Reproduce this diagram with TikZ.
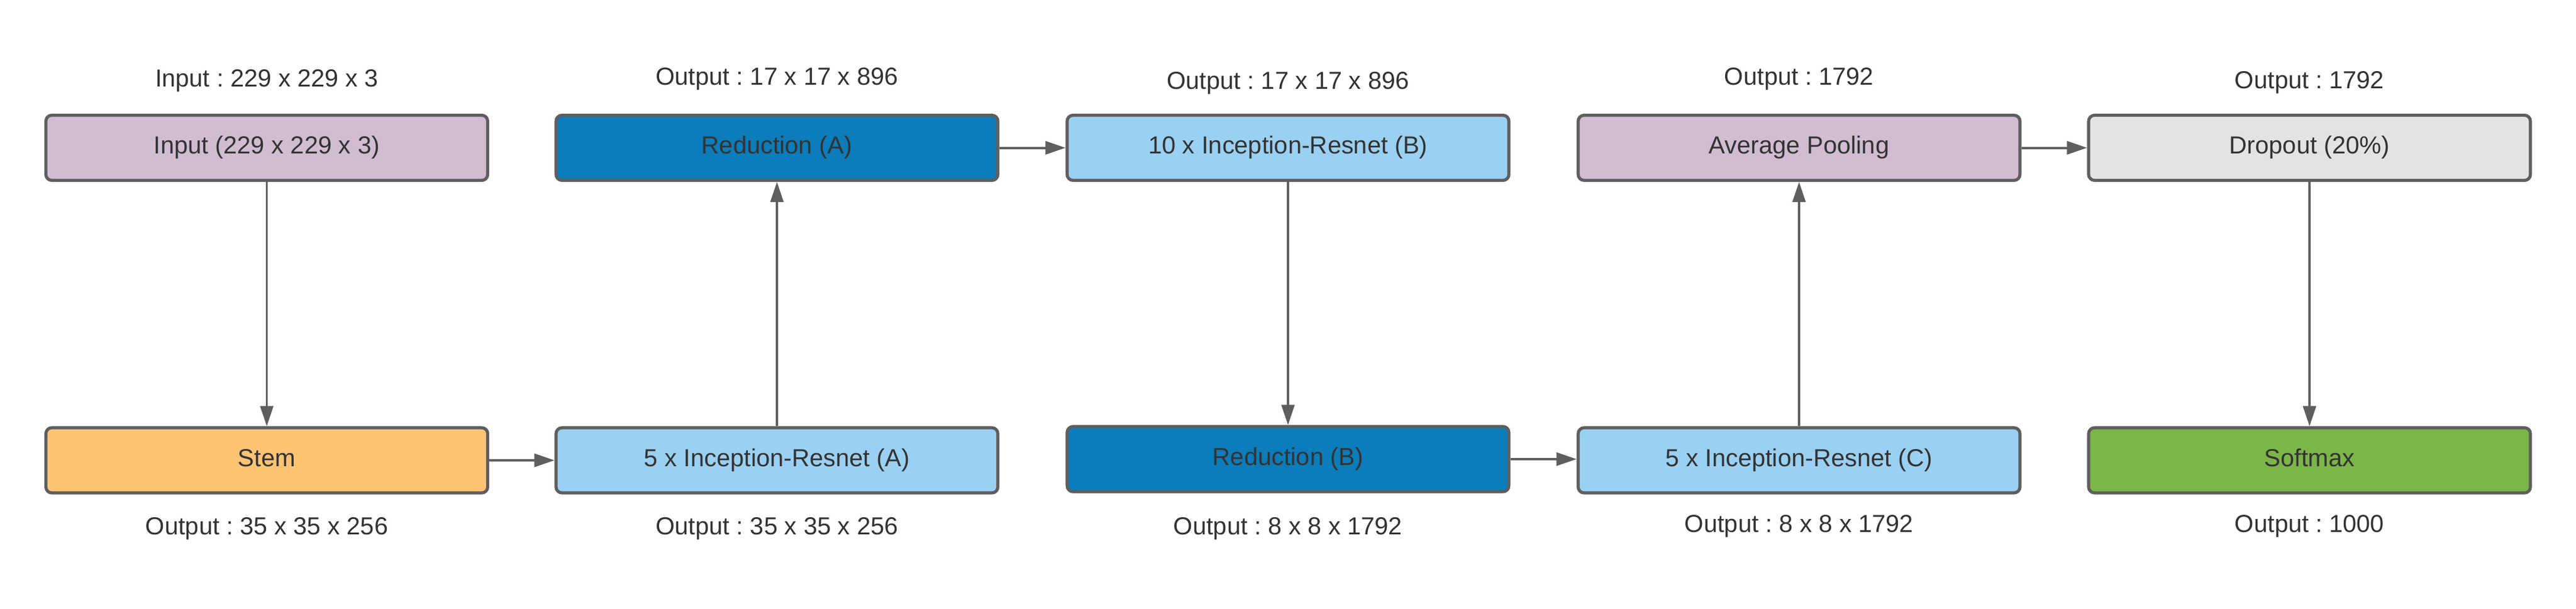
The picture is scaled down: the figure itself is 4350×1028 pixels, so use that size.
\documentclass[tikz,border=0pt]{standalone}
\usepackage{fontspec}
\setmainfont{Liberation Sans}
\usetikzlibrary{arrows.meta}
\frenchspacing
\definecolor{bordc}{HTML}{5E5E5E}
\definecolor{txtc}{HTML}{333333}
\definecolor{purplec}{HTML}{D1BCD2}
\definecolor{dbluec}{HTML}{0C7CBA}
\definecolor{lbluec}{HTML}{9AD0F2}
\definecolor{orangec}{HTML}{FFC374}
\definecolor{greenc}{HTML}{7AB648}
\definecolor{grayc}{HTML}{E3E3E3}
\tikzset{
  blk/.style={draw=bordc, line width=1.3pt, rounded corners=2.5pt,
    minimum width=186.5pt, minimum height=27.5pt, inner sep=0pt,
    text=txtc, font=\fontsize{10.4pt}{12pt}\selectfont,
    text height=0.75em, text depth=0.25em},
  lbl/.style={anchor=base, text=txtc, inner sep=0pt,
    font=\fontsize{10.4pt}{12pt}\selectfont},
  conh/.style={draw=bordc, line width=1pt, -{Triangle[length=8.5pt,width=5.5pt]}},
  conv/.style={draw=bordc, line width=0.8pt, -{Triangle[length=8.5pt,width=5.5pt]}},
}
\begin{document}
\frenchspacing
\begin{tikzpicture}[x=0.25pt, y=-0.25pt]
\useasboundingbox (0,0) rectangle (4350,1028);
% top row
\node[blk, fill=purplec] (inp) at (450.5,249.5) {Input (229 x 229 x 3)};
\node[blk, fill=dbluec] (redA) at (1312,249.5) {Reduction (A)};
\node[blk, fill=lbluec] (incB) at (2175,249.5) {10 x Inception-Resnet (B)};
\node[blk, fill=purplec] (avg) at (3038,249.5) {Average Pooling};
\node[blk, fill=grayc] (drop) at (3900,249.5) {Dropout (20\%)};
% bottom row
\node[blk, fill=orangec] (stem) at (450.5,777) {Stem};
\node[blk, fill=lbluec] (incA) at (1312,777) {5 x Inception-Resnet (A)};
\node[blk, fill=dbluec] (redB) at (2175,775) {Reduction (B)};
\node[blk, fill=lbluec] (incC) at (3038,777) {5 x Inception-Resnet (C)};
\node[blk, fill=greenc] (soft) at (3900,777) {Softmax};
% top labels
\node[lbl] (l1) at (450.5,146) {Input : 229 x 229 x 3};
\node[lbl] (l2) at (1312,143) {Output : 17 x 17 x 896};
\node[lbl] (l3) at (2175,150) {Output : 17 x 17 x 896};
\node[lbl] (l4) at (3038,143) {Output : 1792};
\node[lbl] (l5) at (3900,149) {Output : 1792};
% bottom labels
\node[lbl] (b1) at (450.5,902) {Output : 35 x 35 x 256};
\node[lbl] (b2) at (1312,902) {Output : 35 x 35 x 256};
\node[lbl] (b3) at (2175,902) {Output : 8 x 8 x 1792};
\node[lbl] (b4) at (3038,898) {Output : 8 x 8 x 1792};
\node[lbl] (b5) at (3900,898) {Output : 1000};
% connectors
\draw[conv] (inp) -- (stem);
\draw[conh] (stem) -- (incA);
\draw[conv] (incA) -- (redA);
\draw[conh] (redA) -- (incB);
\draw[conv] (incB) -- (redB);
\draw[conh] (redB.east) -- (redB.east -| incC.west);
\draw[conv] (incC) -- (avg);
\draw[conh] (avg) -- (drop);
\draw[conv] (drop) -- (soft);
\end{tikzpicture}
\end{document}
